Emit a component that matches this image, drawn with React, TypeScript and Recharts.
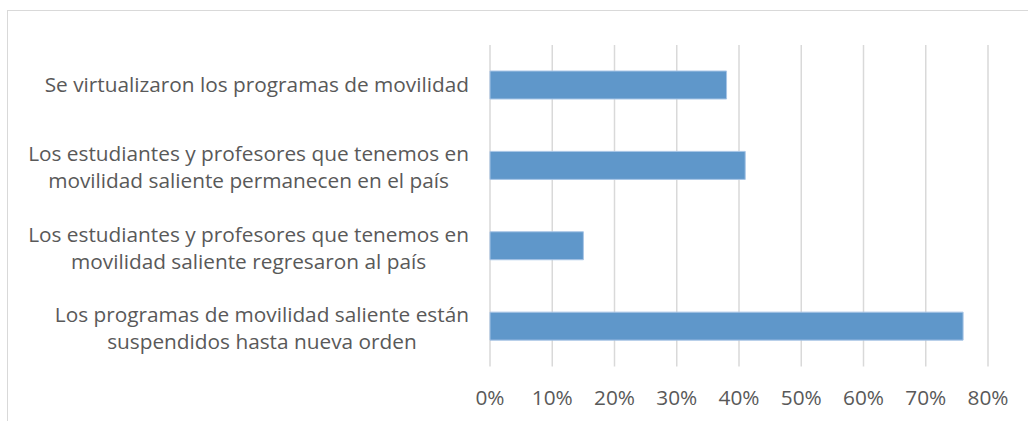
import { Bar, BarChart, CartesianGrid, XAxis, YAxis } from "recharts";

const categories = [
  "Se virtualizaron los programas de movilidad",
  "Los estudiantes y profesores que tenemos en\nmovilidad saliente permanecen en el país",
  "Los estudiantes y profesores que tenemos en\nmovilidad saliente regresaron al país",
  "Los programas de movilidad saliente están\nsuspendidos hasta nueva orden",
];
const shares = [38, 41, 15, 76];
const xTicks = [0, 10, 20, 30, 40, 50, 60, 70, 80];

const FONT = "Open Sans";
const FONT_SIZE = 20.8;
const TEXT = "#595959";

const rows = categories.map((c, i) => ({ label: c, share: shares[i] }));

let ctx: CanvasRenderingContext2D | null = null;
function textWidth(s: string) {
  if (!ctx) ctx = document.createElement("canvas").getContext("2d");
  if (!ctx) return s.length * FONT_SIZE * 0.5;
  ctx.font = `${FONT_SIZE}px "${FONT}"`;
  return ctx.measureText(s).width;
}

function CategoryTick({ x, y, payload }: any) {
  const lines = String(payload.value).split("\n");
  const w = Math.max(...lines.map(textWidth));
  const cx = x - w / 2;
  const lh = 27;
  const top = y - ((lines.length - 1) * lh) / 2 + (lines.length > 1 ? 2 : 0);
  return (
    <text
      x={cx}
      y={top}
      textAnchor="middle"
      fill={TEXT}
      fontFamily={FONT}
      fontSize={FONT_SIZE}
    >
      {lines.map((l, i) => (
        <tspan key={i} x={cx} y={top + i * lh} dy="0.35em">
          {l}
        </tspan>
      ))}
    </text>
  );
}

export default function App() {
  return (
    <div style={{ position: "relative", width: 1028, height: 421, overflow: "hidden", background: "#fff" }}>
      <style>{`body{margin:0}`}</style>
      <div
        style={{
          position: "absolute",
          left: 7,
          top: 10,
          right: -10,
          bottom: -10,
          border: "1px solid #d9d9d9",
        }}
      />
      <BarChart
        width={1028}
        height={421}
        data={rows}
        layout="vertical"
        margin={{ top: 45, right: 40, bottom: 0, left: 0 }}
        style={{ position: "absolute", left: 0, top: 0 }}
      >
        <CartesianGrid horizontal={false} stroke="#d9d9d9" strokeWidth={1.5} />
        <XAxis
          type="number"
          domain={[0, 80]}
          ticks={xTicks}
          interval={0}
          tickFormatter={(v) => `${v}%`}
          axisLine={false}
          tickLine={false}
          height={54.5}
          tickMargin={18}
          tick={{ fill: TEXT, fontFamily: FONT, fontSize: FONT_SIZE }}
        />
        <YAxis
          type="category"
          dataKey="label"
          width={490}
          axisLine={false}
          tickLine={false}
          tickMargin={15}
          interval={0}
          tick={<CategoryTick />}
        />
        <Bar
          dataKey="share"
          fill="#5f97ca"
          stroke="#a8c5e6"
          strokeWidth={1}
          barSize={28}
          isAnimationActive={false}
        />
      </BarChart>
    </div>
  );
}
